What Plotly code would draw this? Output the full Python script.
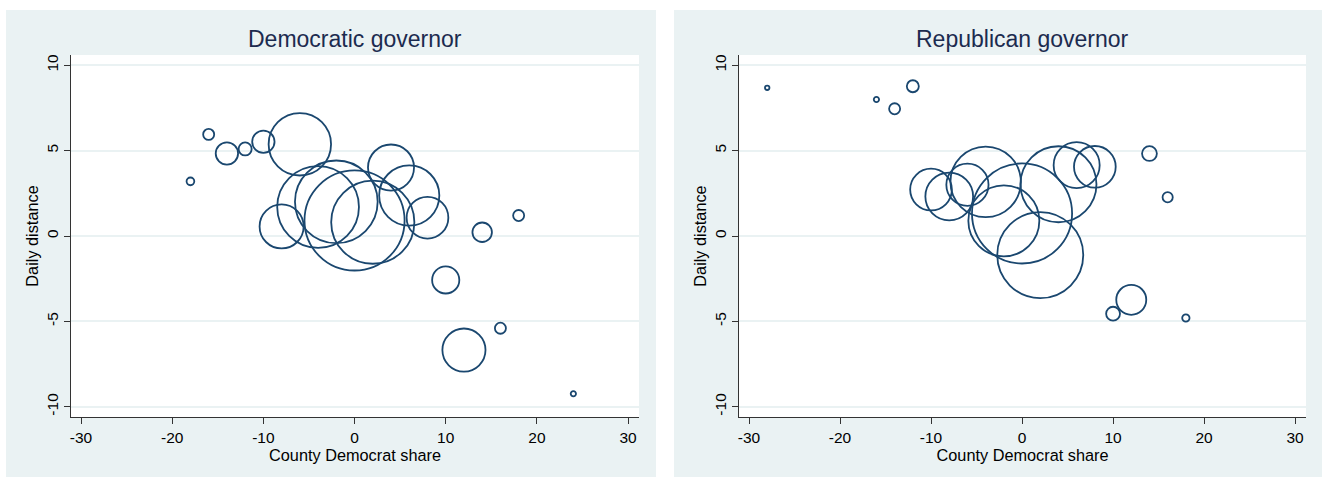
import plotly.graph_objects as go

# ---------------- data ----------------
dem_share = [-18, -16, -14, -12, -10, -8, -6, -4, -2, 0, 2, 4, 6, 8, 10, 12, 14, 16, 18, 24]
dem_dist = [3.2, 5.95, 4.83, 5.1, 5.52, 0.56, 5.37, 1.7, 2.0, 0.91, 0.81, 4.01, 2.37, 1.07,
            -2.57, -6.68, 0.22, -5.4, 1.2, -9.24]
dem_weight = [0.3, 0.61, 2.5, 0.85, 2.5, 9.7, 19.5, 33.4, 34.2, 50.1, 34.6, 10.6, 18.1, 8.7,
              3.7, 9.3, 1.9, 0.61, 0.61, 0.14]

rep_share = [-28, -16, -14, -12, -10, -8, -6, -4, -2, 0, 2, 4, 6, 8, 10, 12, 14, 16, 18]
rep_dist = [8.68, 7.99, 7.45, 8.77, 2.72, 2.31, 3.0, 3.17, 0.89, 1.32, -1.12, 3.03, 4.15, 4.05,
            -4.55, -3.74, 4.83, 2.27, -4.8]
rep_weight = [0.1, 0.14, 0.61, 0.72, 8.7, 11.4, 8.9, 24.8, 25.2, 50.1, 37.0, 28.9, 10.6, 8.7,
              0.96, 4.5, 1.1, 0.52, 0.27]

panel_titles = ["Democratic governor", "Republican governor"]
x_title = "County Democrat share"
y_title = "Daily distance"
x_ticks = [-30, -20, -10, 0, 10, 20, 30]
y_ticks = [-10, -5, 0, 5, 10]

# ---------------- style ----------------
W, H = 1322, 477
NAVY = "#1a476f"
PANEL_BG = "#eaf2f3"
AXIS = "#333333"
FONT = "Liberation Sans, Arial, Helvetica, sans-serif"

def px_x(p):
    return p / W

def px_y(p):  # p measured from top
    return (H - p) / H

x_domains = [[px_x(71), px_x(639)], [px_x(739), px_x(1306)]]
y_domain = [px_y(417), px_y(55)]

fig = go.Figure()

for i, (xs, ys, ws) in enumerate([(dem_share, dem_dist, dem_weight),
                                  (rep_share, rep_dist, rep_weight)]):
    sfx = "" if i == 0 else "2"
    fig.add_trace(go.Scatter(
        x=xs, y=ys, mode="markers",
        xaxis="x" + sfx, yaxis="y" + sfx,
        marker=dict(symbol="circle-open", size=ws, sizemode="area", sizeref=0.01,
                    color=NAVY, opacity=1, line=dict(color=NAVY, width=1.8)),
        showlegend=False, hoverinfo="x+y",
    ))

shapes = []
panels = [(6, 656), (674, 1322)]
for (a, b) in panels:
    shapes.append(dict(type="rect", xref="paper", yref="paper", x0=px_x(a), x1=px_x(b),
                       y0=0, y1=px_y(10), fillcolor=PANEL_BG, line=dict(width=0),
                       layer="below"))
for d in x_domains:
    shapes.append(dict(type="rect", xref="paper", yref="paper", x0=d[0], x1=d[1],
                       y0=y_domain[0], y1=y_domain[1], fillcolor="white",
                       line=dict(width=0), layer="below"))

layout = dict(
    width=W, height=H,
    margin=dict(l=0, r=0, t=0, b=0),
    paper_bgcolor="white", plot_bgcolor="white",
    font=dict(family=FONT, color="black"),
    shapes=shapes,
    annotations=[],
)

for i in range(2):
    sfx = "" if i == 0 else "2"
    layout["xaxis" + sfx] = dict(
        domain=x_domains[i], anchor="y" + sfx, range=[-31.1, 31.2],
        tickvals=x_ticks, ticktext=[str(v) for v in x_ticks],
        ticks="outside", ticklen=6, tickwidth=1, tickcolor=AXIS,
        showline=True, linecolor=AXIS, linewidth=1.2,
        showgrid=False, zeroline=False,
        tickfont=dict(size=15.5, color="black"),
        title=dict(text=x_title, font=dict(size=16.3, color="black"), standoff=2),
    )
    layout["yaxis" + sfx] = dict(
        domain=y_domain, anchor="x" + sfx, range=[-10.6, 10.6],
        tickvals=y_ticks, ticktext=[str(v) for v in y_ticks], tickangle=-90,
        ticks="outside", ticklen=6, tickwidth=1, tickcolor=AXIS,
        showline=True, linecolor=AXIS, linewidth=1.2,
        showgrid=True, gridcolor=PANEL_BG, gridwidth=1.5, zeroline=False,
        tickfont=dict(size=15.5, color="black"),
        title=dict(text=y_title, font=dict(size=16.3, color="black"), standoff=0),
    )
    layout["annotations"].append(dict(
        text=panel_titles[i], xref="paper", yref="paper",
        x=(x_domains[i][0] + x_domains[i][1]) / 2, y=px_y(39),
        xanchor="center", yanchor="middle", showarrow=False,
        font=dict(size=23, color="#1c2b4f", family=FONT),
    ))

fig.update_layout(**layout)
fig.write_html("out.html", config={"displayModeBar": False},
               post_script="document.body.style.margin='0px';")
